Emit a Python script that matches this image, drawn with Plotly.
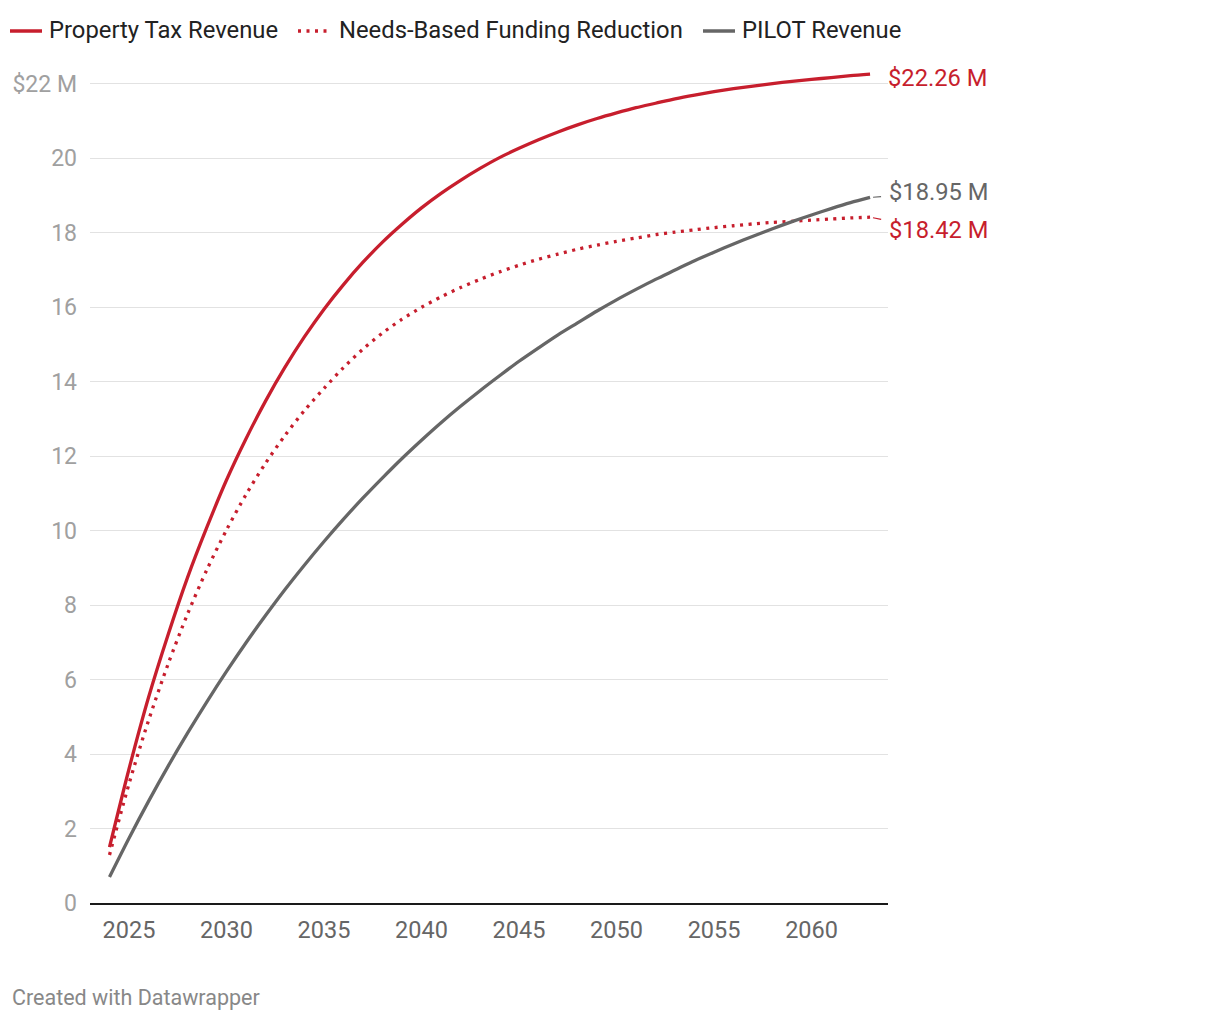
import plotly.graph_objects as go

years = list(range(2024, 2064))

property_tax = [1.50, 3.60, 5.52, 7.20, 8.74, 10.10, 11.36, 12.47, 13.48, 14.39,
                15.21, 15.95, 16.61, 17.21, 17.75, 18.23, 18.67, 19.06, 19.41, 19.73,
                20.02, 20.27, 20.50, 20.71, 20.90, 21.07, 21.22, 21.36, 21.48, 21.60,
                21.70, 21.79, 21.87, 21.94, 22.01, 22.07, 22.12, 22.17, 22.22, 22.26]

needs_based = [1.29, 3.20, 4.90, 6.41, 7.76, 8.96, 10.02, 10.97, 11.81, 12.56,
               13.23, 13.82, 14.38, 14.88, 15.31, 15.68, 16.00, 16.28, 16.53, 16.75,
               16.95, 17.13, 17.29, 17.43, 17.56, 17.67, 17.77, 17.86, 17.95, 18.02,
               18.08, 18.14, 18.19, 18.24, 18.28, 18.31, 18.34, 18.37, 18.40, 18.42]

pilot = [0.70, 1.74, 2.73, 3.67, 4.56, 5.41, 6.22, 6.99, 7.72, 8.42,
         9.08, 9.71, 10.31, 10.88, 11.42, 11.94, 12.43, 12.90, 13.34, 13.76,
         14.16, 14.55, 14.91, 15.26, 15.58, 15.90, 16.20, 16.48, 16.75, 17.00,
         17.25, 17.48, 17.70, 17.91, 18.11, 18.30, 18.48, 18.65, 18.81, 18.95]

series_names = ["Property Tax Revenue", "Needs-Based Funding Reduction", "PILOT Revenue"]
end_labels = ["$22.26 M", "$18.95 M", "$18.42 M"]

y_tickvals = [0, 2, 4, 6, 8, 10, 12, 14, 16, 18, 20, 22]
y_ticktext = ["0", "2", "4", "6", "8", "10", "12", "14", "16", "18", "20", "$22 M"]
x_tickvals = [2025, 2030, 2035, 2040, 2045, 2050, 2055, 2060]

RED = "#c71e2d"
GRAY = "#666666"
FONT = "Roboto"
DOT = "3px,5.5px"
LW = 3.3

# layout geometry (pixels)
W, H = 1220, 1020
ML, MR, MT, MB = 90, 332, 69, 117
PW, PH = W - ML - MR, H - MT - MB


def px_x(px):
    return (px - ML) / PW


def px_y(py):
    return (H - MB - py) / PH


fig = go.Figure()
fig.add_trace(go.Scatter(x=years, y=property_tax, mode="lines", name=series_names[0],
                         line=dict(color=RED, width=LW, shape="spline", smoothing=0.8),
                         showlegend=False))
fig.add_trace(go.Scatter(x=years, y=needs_based, mode="lines", name=series_names[1],
                         line=dict(color=RED, width=LW, dash=DOT, shape="spline", smoothing=0.8),
                         showlegend=False))
fig.add_trace(go.Scatter(x=years, y=pilot, mode="lines", name=series_names[2],
                         line=dict(color=GRAY, width=LW, shape="spline", smoothing=0.8),
                         showlegend=False))

# manual legend (symbol start px, text start px)
legend_items = [(10, 47, RED, "solid"), (298, 337, RED, DOT), (703, 740, GRAY, "solid")]
shapes = []
annotations = []
for (sx, tx, col, dash), name in zip(legend_items, series_names):
    shapes.append(dict(type="line", xref="paper", yref="paper",
                       x0=px_x(sx), x1=px_x(sx + 32), y0=px_y(31), y1=px_y(31),
                       line=dict(color=col, width=3.5, dash=dash)))
    annotations.append(dict(x=px_x(tx), y=px_y(30), xref="paper", yref="paper", text=name,
                            showarrow=False, xanchor="left", yanchor="middle",
                            font=dict(family=FONT, size=23.8, color="#222222")))

annotations += [
    dict(x=years[-1], y=property_tax[-1], xref="x", yref="y", text=end_labels[0],
         showarrow=False, xanchor="left", yanchor="middle", xshift=16, yshift=-4,
         font=dict(family=FONT, size=23.7, color=RED)),
    dict(x=years[-1], y=pilot[-1], xref="x", yref="y", text=end_labels[1],
         showarrow=True, arrowhead=0, arrowwidth=1.2, arrowcolor=GRAY,
         ax=68, ay=-5, standoff=3, startstandoff=6,
         font=dict(family=FONT, size=23.7, color=GRAY)),
    dict(x=years[-1], y=needs_based[-1], xref="x", yref="y", text=end_labels[2],
         showarrow=True, arrowhead=0, arrowwidth=1.2, arrowcolor=RED,
         ax=68, ay=13, standoff=3, startstandoff=6,
         font=dict(family=FONT, size=23.7, color=RED)),
    dict(x=px_x(10), y=px_y(997), xref="paper", yref="paper", text="Created with Datawrapper",
         showarrow=False, xanchor="left", yanchor="middle",
         font=dict(family=FONT, size=21.5, color="#888888")),
]

fig.update_layout(
    width=W, height=H,
    margin=dict(l=ML, r=MR, t=MT, b=MB),
    paper_bgcolor="white", plot_bgcolor="white",
    font=dict(family=FONT, size=20, color="#333333"),
    showlegend=False,
    shapes=shapes,
    annotations=annotations,
    xaxis=dict(range=[2023, 2063.92], tickvals=x_tickvals, showgrid=False,
               showline=True, linecolor="#1a1a1a", linewidth=2, zeroline=False,
               ticks="", ticklabelstandoff=5,
               tickfont=dict(family=FONT, size=23.5, color="#666666")),
    yaxis=dict(range=[0, 22.4], tickvals=y_tickvals, ticktext=y_ticktext,
               showgrid=True, gridcolor="#e2e2e2", gridwidth=1, zeroline=False,
               showline=False, ticks="", ticklabelstandoff=12,
               tickfont=dict(family=FONT, size=23, color="#a0a0a0")),
)

fig.write_html("out.html")
